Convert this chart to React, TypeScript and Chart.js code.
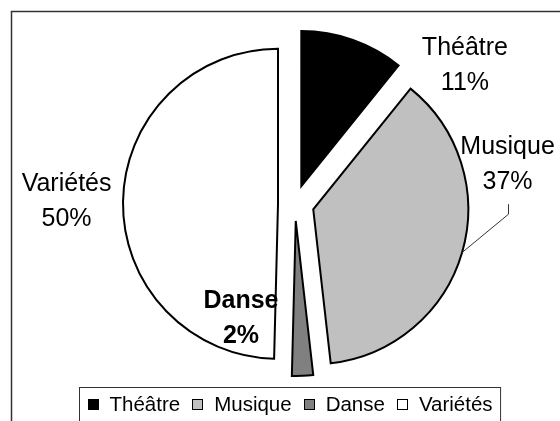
import { useEffect, useRef } from "react";
import { Chart, registerables } from "chart.js";

Chart.register(...registerables);

// ---- data ----
const categories = ["Théâtre", "Musique", "Danse", "Variétés"];
const shares = [10.8, 37.4, 2.2, 49.6];
const sliceColors = ["#000000", "#c0c0c0", "#808080", "#ffffff"];

// ---- styling / placement ----
const explodeBy = [19, 19, 17, 17];
const labelAngleDeg = [50.4, 79.0, 205.6, 271.1];
const labelDistance = [1.423, 1.397, 0.807, 1.474];
const labelBold = [false, false, true, false];
const labelLeader = [false, true, false, false];

const W = 579;
const H = 445;
const FONT = '"Liberation Sans", Arial, sans-serif';

const explodePlugin = {
  id: "explode",
  afterDatasetsUpdate(chart: any) {
    const meta = chart.getDatasetMeta(0);
    meta.data.forEach((arc: any, i: number) => {
      const mid = (arc.startAngle + arc.endAngle) / 2;
      arc.x += Math.cos(mid) * explodeBy[i];
      arc.y += Math.sin(mid) * explodeBy[i];
    });
  },
};

const decorPlugin = {
  id: "decor",
  beforeDraw(chart: any) {
    const ctx = chart.ctx;
    ctx.save();
    ctx.fillStyle = "#ffffff";
    ctx.fillRect(0, 0, chart.width, chart.height);
    ctx.strokeStyle = "#333333";
    ctx.lineWidth = 1.5;
    ctx.strokeRect(11.5, 11.5, chart.width - 23, chart.height - 23);
    ctx.restore();
  },
  afterDraw(chart: any) {
    const ctx = chart.ctx;
    const area = chart.chartArea;
    const cx = (area.left + area.right) / 2;
    const cy = (area.top + area.bottom) / 2;
    const meta = chart.getDatasetMeta(0);
    const data = chart.data.datasets[0].data as number[];
    const labels = chart.data.labels as string[];
    const total = data.reduce((a, b) => a + b, 0);
    ctx.save();
    meta.data.forEach((arc: any, i: number) => {
      const R = arc.outerRadius;
      const th = (labelAngleDeg[i] * Math.PI) / 180;
      const lx = cx + Math.sin(th) * R * labelDistance[i];
      const ly = cy - Math.cos(th) * R * labelDistance[i];
      ctx.font = `${labelBold[i] ? "bold " : ""}25px ${FONT}`;
      ctx.fillStyle = "#000000";
      ctx.textAlign = "center";
      ctx.textBaseline = "alphabetic";
      ctx.fillText(labels[i], lx, ly - 8.5);
      const pct = Math.round((data[i] / total) * 100) + "%";
      ctx.fillText(pct, lx, ly + 26.5);
      if (labelLeader[i]) {
        const mid = (arc.startAngle + arc.endAngle) / 2;
        const ex = arc.x + Math.cos(mid) * R;
        const ey = arc.y + Math.sin(mid) * R;
        ctx.beginPath();
        ctx.moveTo(Math.round(lx) + 0.5, ly + 41.5);
        ctx.lineTo(Math.round(lx) + 0.5, ly + 51.5);
        ctx.lineTo(ex, ey);
        ctx.strokeStyle = "#333333";
        ctx.lineWidth = 1;
        ctx.stroke();
      }
    });

    // legend
    const fontPx = 20.5;
    ctx.font = `${fontPx}px ${FONT}`;
    const sq = 10;
    const sqGap = 12;
    const itemGap = 12;
    const pad = 8;
    const widths = labels.map((l) => ctx.measureText(l).width);
    const content =
      widths.reduce((a, b) => a + b, 0) + labels.length * (sq + sqGap) + (labels.length - 1) * itemGap;
    const boxW = content + 2 * pad;
    const boxLeft = Math.round(chart.width / 2 - boxW / 2) + 0.5;
    const boxTop = 387.5;
    const boxH = 36;
    ctx.strokeStyle = "#333333";
    ctx.lineWidth = 1;
    ctx.fillStyle = "#ffffff";
    ctx.fillRect(boxLeft, boxTop, boxW, boxH);
    ctx.strokeRect(boxLeft, boxTop, boxW, boxH);
    let x = boxLeft + pad;
    const baseline = 411;
    labels.forEach((l, i) => {
      ctx.fillStyle = sliceColors[i];
      ctx.fillRect(Math.round(x) + 0.5, 399.5, sq, sq);
      ctx.strokeStyle = "#000000";
      ctx.strokeRect(Math.round(x) + 0.5, 399.5, sq, sq);
      x += sq + sqGap;
      ctx.fillStyle = "#000000";
      ctx.textAlign = "left";
      ctx.textBaseline = "alphabetic";
      ctx.fillText(l, x, baseline);
      x += widths[i] + itemGap;
    });
    ctx.restore();
  },
};

export default function App() {
  const canvasRef = useRef<HTMLCanvasElement | null>(null);

  useEffect(() => {
    const canvas = canvasRef.current;
    if (!canvas) return;
    const chart = new Chart(canvas, {
      type: "pie",
      data: {
        labels: categories,
        datasets: [
          {
            data: shares,
            backgroundColor: sliceColors,
            borderColor: "#000000",
            borderWidth: 2,
            borderJoinStyle: "miter",
          } as any,
        ],
      },
      options: {
        responsive: false,
        maintainAspectRatio: false,
        animation: false,
        events: [],
        radius: 155,
        layout: { padding: { left: 11, right: 0, top: 0, bottom: 37 } },
        plugins: {
          legend: { display: false },
          tooltip: { enabled: false },
        },
      } as any,
      plugins: [explodePlugin, decorPlugin],
    });
    return () => chart.destroy();
  }, []);

  return (
    <div
      style={{
        position: "fixed",
        left: 0,
        top: 0,
        width: 560,
        height: 421,
        overflow: "hidden",
        background: "#ffffff",
      }}
    >
      <canvas ref={canvasRef} width={W} height={H} style={{ display: "block", width: W, height: H }} />
    </div>
  );
}
